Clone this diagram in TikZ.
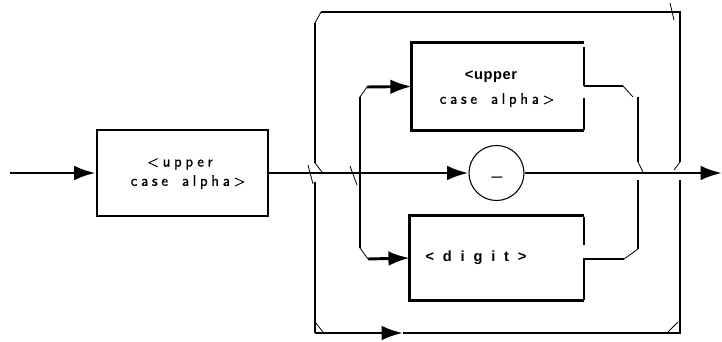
\documentclass[tikz,border=0pt]{standalone}
\usepackage{fontspec}
\newfontfamily\hpbold[LetterSpace=4]{Liberation Sans}
\newfontfamily\hpwide[LetterSpace=32]{Liberation Sans}
\newfontfamily\hplite[LetterSpace=24,WordSpace=1.6,FakeBold=1.2]{Latin Modern Sans}
\usetikzlibrary{arrows.meta}

\tikzset{
  wire/.style={line width=2.2pt},
  tick/.style={line width=0.6pt},
  arr/.style={wire,-{Latex[length=16pt,width=11pt]}},
  synbox/.style={inner sep=0pt},
  lite/.style={inner sep=0pt,font=\hplite\fontsize{11.5}{13}\selectfont},
  heavy/.style={inner sep=0pt,font=\hpbold\bfseries\fontsize{11}{13}\selectfont},
}

\begin{document}
\begin{tikzpicture}[x=0.75pt,y=0.75pt,yscale=-1,xscale=1]
        \useasboundingbox (0,0) rectangle (722,342);
        % boxes
        \node[synbox,draw,wire,minimum width=128.25pt,minimum height=64.5pt] (alphaA) at (182.5,173) {};
        \node[synbox,minimum width=129pt,minimum height=65.25pt] (alphaB) at (498,86.5) {};
        \node[synbox,minimum width=130.5pt,minimum height=63pt] (digit) at (497,258) {};
        \node[circle,draw,line width=0.8pt,minimum size=41.25pt,inner sep=0pt] (uscore) at (496.5,173) {};
        % texts
        \node[lite] (txtAa) at (180,164) {<upper};
        \node[lite] (txtAb) at (188,182) {case alpha>};
        \node[heavy] (txtBa) at (491,77) {<upper};
        \node[lite] (txtBb) at (497,100) {case alpha>};
        \node[heavy,font=\hpwide\bfseries\fontsize{11}{13}\selectfont] (txtC) at (476,258) {< d i g i t >};
        \node[inner sep=0pt,font=\hpbold\fontsize{14}{14}\selectfont] (txtU) at (497,176) {\_};
        % open box edges
        \draw[wire] (alphaB.north east) -- (alphaB.north west) -- (alphaB.south west) -- (alphaB.south east);
        \draw[wire] (584,47) -- (584,86);
        \draw[wire] (584,98) -- (584,130);
        \draw[wire] (digit.south east) -- (digit.south west) -- (digit.north west) -- (digit.north east);
        \draw[wire] (584,217) -- (584,245);
        \draw[wire] (584,258) -- (584,300);
        % coordinates
        \coordinate (start) at (10,173);
        \coordinate (finish) at (722,173);
        \coordinate (splitT) at (360,97);
        \coordinate (splitB) at (360,248);
        \coordinate (toB) at (367,87);
        \coordinate (toC) at (368,259);
        \coordinate (joinT) at (623,86);
        \coordinate (joinB) at (624,259);
        \coordinate (loopTL) at (321,12);
        \coordinate (loopTR) at (680,12);
        \coordinate (loopBR) at (680,333);
        \coordinate (loopBL) at (315,333);
        \coordinate (loopMid) at (403,333);
        % main line
        \draw[arr] (start) -- (alphaA.west);
        \draw[arr] (alphaA.east) -- (uscore.west);
        \draw[arr] (uscore.east) -- (finish);
        % branches
        \draw[wire] (splitT) -- (splitB);
        \draw[tick] (splitT) -- (toB);
        \draw[arr] (toB) -- (alphaB.west);
        \draw[tick] (splitB) -- (toC);
        \draw[arr] (toC) -- (digit.west);
        \draw[line width=1.5pt] (584,86) -- (joinT);
        \draw[tick] (joinT) -- (633,97);
        \draw[wire] (638,97) -- (638,162);
        \draw[tick] (638,162) -- (643,172);
        \draw[wire] (638,180) -- (638,249);
        \draw[tick] (638,249) -- (joinB);
        \draw[line width=1.5pt] (joinB) -- (584,259);
        % loop
        \draw[tick] (315,23) -- (loopTL);
        \draw[wire] (315,23) -- (315,163);
        \draw[wire] (loopTL) -- (loopTR) -- (680,162);
        \draw[tick] (680,162) -- (674,170);
        \draw[wire] (680,180) -- (loopBR) -- (loopMid);
        \draw[arr] (loopBL) -- (loopMid);
        \draw[wire] (loopBL) -- (315,182);
        \draw[tick] (668,332) -- (678,322);
        \draw[tick] (315,322) -- (323,332);
        \draw[tick] (308,165) -- (313,184);
        \draw[tick] (315,163) -- (322,172);
        \draw[tick] (350,166) -- (357,185);
        \draw[tick] (670,3) -- (674,20);
\end{tikzpicture}
\end{document}
